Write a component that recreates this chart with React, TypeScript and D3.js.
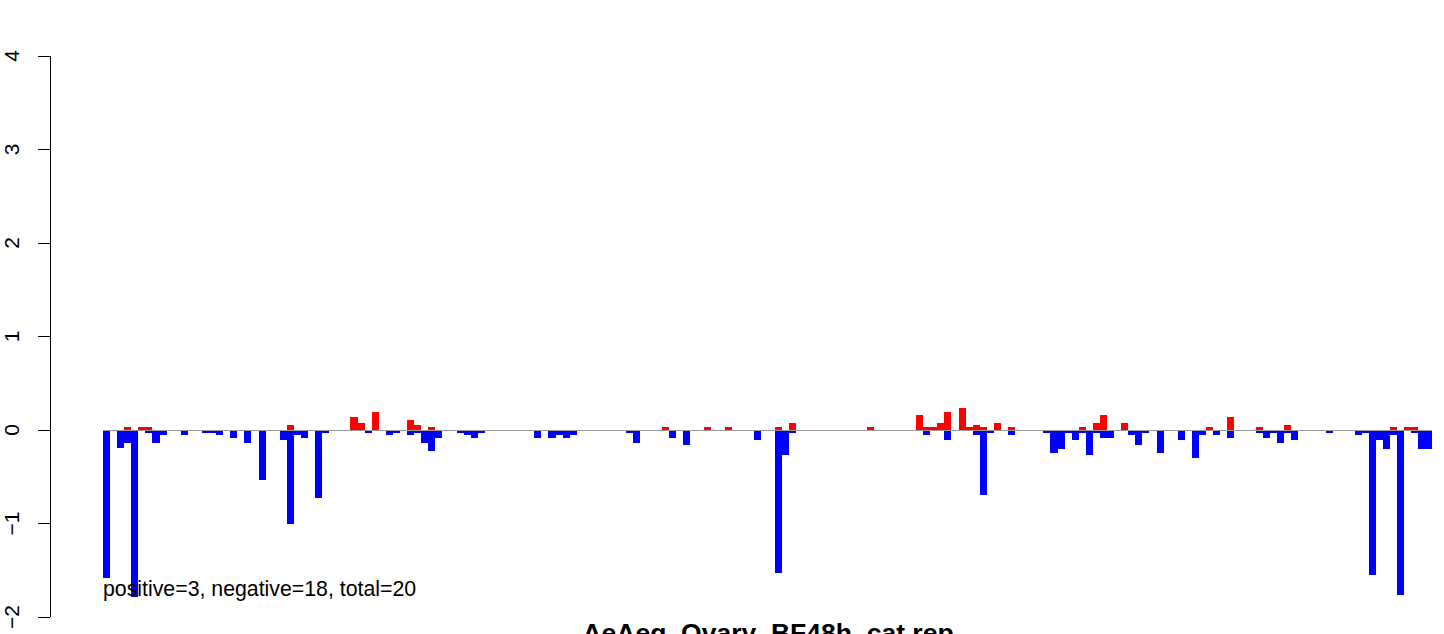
import React from "react";
import * as d3 from "d3";

// number of genomic bins along the x axis
const nBins = 188;

// positive (red) bars: bin index and value
const posBins = [3, 5, 6, 26, 35, 36, 38, 43, 44, 46, 79, 85, 88, 95, 97, 108, 115, 116, 117, 118, 119, 121, 122, 123, 124, 126, 128, 138, 140, 141, 144, 156, 159, 163, 167, 182, 184, 185];
const posValues = [0.03, 0.03, 0.03, 0.05, 0.14, 0.08, 0.19, 0.11, 0.05, 0.03, 0.03, 0.03, 0.03, 0.03, 0.08, 0.03, 0.16, 0.03, 0.03, 0.08, 0.19, 0.24, 0.03, 0.05, 0.03, 0.08, 0.03, 0.03, 0.08, 0.16, 0.08, 0.03, 0.14, 0.03, 0.05, 0.03, 0.03, 0.03];

// negative (blue) bars: bin index and value
const negBins = [0, 2, 3, 4, 6, 7, 8, 11, 14, 15, 16, 18, 20, 22, 25, 26, 27, 28, 30, 31, 37, 40, 41, 43, 44, 45, 46, 47, 50, 51, 52, 53, 61, 63, 64, 65, 66, 74, 75, 80, 82, 92, 95, 96, 97, 116, 119, 123, 124, 125, 128, 133, 134, 135, 136, 137, 138, 139, 140, 141, 142, 145, 146, 147, 149, 152, 154, 155, 157, 159, 163, 164, 165, 166, 167, 168, 173, 177, 178, 179, 180, 181, 182, 183, 185, 186, 187];
const negValues = [-1.58, -0.19, -0.14, -1.79, -0.03, -0.14, -0.05, -0.05, -0.03, -0.03, -0.05, -0.09, -0.14, -0.54, -0.11, -1.01, -0.05, -0.09, -0.73, -0.03, -0.03, -0.05, -0.03, -0.05, -0.03, -0.14, -0.22, -0.09, -0.03, -0.05, -0.09, -0.03, -0.09, -0.09, -0.05, -0.09, -0.05, -0.03, -0.14, -0.09, -0.16, -0.11, -1.53, -0.27, -0.03, -0.05, -0.11, -0.05, -0.70, -0.03, -0.05, -0.03, -0.25, -0.2, -0.03, -0.11, -0.03, -0.27, -0.03, -0.09, -0.09, -0.05, -0.16, -0.03, -0.25, -0.11, -0.3, -0.05, -0.05, -0.09, -0.03, -0.09, -0.03, -0.14, -0.03, -0.11, -0.03, -0.05, -0.03, -1.55, -0.11, -0.2, -0.05, -1.76, -0.03, -0.2, -0.2];

const yTicks = [-2, -1, 0, 1, 2, 3, 4];
const summaryText = "positive=3, negative=18, total=20";
const titleText = "AeAeg_Ovary_BF48h_cat.rep";

const W = 1444;
const H = 634;
const FONT = "'Liberation Sans', Arial, Helvetica, sans-serif";

export default function App() {
  const x = d3
    .scaleBand<number>()
    .domain(d3.range(nBins))
    .range([103, 1432.3])
    .paddingInner(0)
    .paddingOuter(0);
  const y = d3.scaleLinear().domain([-2, 4]).range([617, 56]);
  const bw = x.bandwidth();
  const y0 = y(0);
  const axisX = 50;
  const fmt = (v: number) => (v < 0 ? "\u2212" + Math.abs(v) : String(v));

  return (
    <svg
      width={W}
      height={H}
      style={{ position: "absolute", left: 0, top: 0, background: "#fff" }}
      fontFamily={FONT}
    >
      <rect x={0} y={0} width={W} height={H} fill="#fff" />
      <g shapeRendering="crispEdges">
        {posBins.map((b, i) => (
          <rect
            key={"p" + i}
            x={x(b)}
            y={y(posValues[i])}
            width={bw}
            height={y0 - y(posValues[i])}
            fill="#ff0000"
          />
        ))}
        {negBins.map((b, i) => (
          <rect
            key={"n" + i}
            x={x(b)}
            y={y0}
            width={bw}
            height={y(negValues[i]) - y0}
            fill="#0000ff"
          />
        ))}
        <line
          x1={x(0)}
          x2={(x(nBins - 1) as number) + bw}
          y1={y0}
          y2={y0}
          stroke="#999999"
          strokeWidth={1}
        />
        <line x1={axisX} x2={axisX} y1={y(-2)} y2={y(4)} stroke="#000" strokeWidth={1} />
        {yTicks.map((t) => (
          <line key={"t" + t} x1={axisX - 12} x2={axisX} y1={y(t)} y2={y(t)} stroke="#000" strokeWidth={1} />
        ))}
      </g>
      {yTicks.map((t) => (
        <text
          key={"l" + t}
          transform={`translate(19,${y(t)}) rotate(-90)`}
          textAnchor="middle"
          fontSize={21}
          fill="#000"
        >
          {fmt(t)}
        </text>
      ))}
      <text x={103} y={596} fontSize={21.3} fill="#000">
        {summaryText}
      </text>
      <text x={768} y={642} textAnchor="middle" fontSize={26.5} fontWeight="bold" fill="#000">
        {titleText}
      </text>
    </svg>
  );
}
